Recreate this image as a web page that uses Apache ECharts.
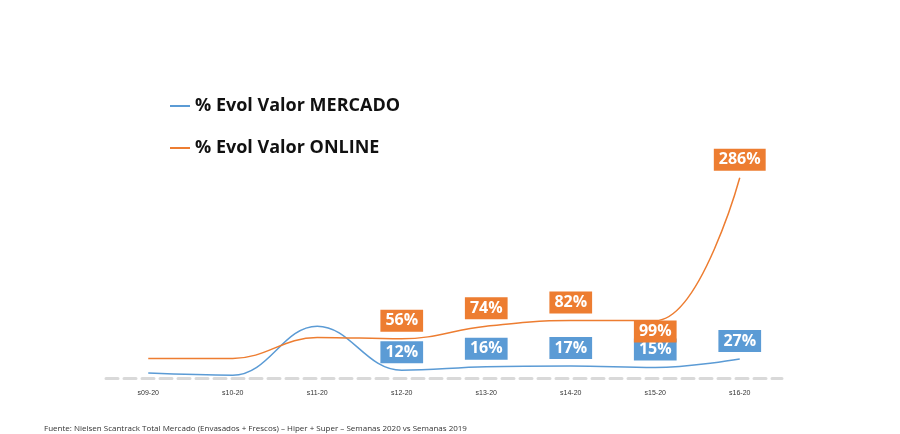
<!DOCTYPE html>
<html>
<head>
<meta charset="utf-8">
<script src="https://cdn.jsdelivr.net/npm/echarts@6/dist/echarts.min.js"></script>
<style>html,body{margin:0;background:#fff}#chart{width:900px;height:434px}</style>
</head>
<body>
<div id="chart"></div>
<script>
const weeks = ['s09-20', 's10-20', 's11-20', 's12-20', 's13-20', 's14-20', 's15-20', 's16-20'];
const mercado = [7, 4, 74, 11, 16, 17, 15, 27];
const online = [28, 28, 58, 56, 74, 82, 82, 286];
const mercadoLabels = [null, null, null, '12%', '16%', '17%', '15%', '27%'];
const onlineLabels = [null, null, null, '56%', '74%', '82%', '99%', '286%'];

function labelled(values, labels, color, below) {
    return values.map(function (v, i) {
        if (!labels[i]) return v;
        return {
            value: v,
            label: {
                show: true,
                formatter: labels[i],
                position: below.indexOf(i) >= 0 ? 'bottom' : 'top',
                distance: below.indexOf(i) >= 0 ? 0 : 7,
                backgroundColor: color,
                color: '#fff',
                fontWeight: 'bold',
                fontSize: 16,
                fontFamily: 'Open Sans',
                padding: [3, 5]
            }
        };
    });
}

const chart = echarts.init(document.getElementById('chart'));
chart.setOption({
    animation: false,
    grid: {left: 106, right: 118, top: 168, bottom: 56},
    legend: {
        orient: 'vertical', left: 165, top: 92, itemGap: 24,
        itemWidth: 20, itemHeight: 2, icon: 'rect',
        textStyle: {fontSize: 18, fontWeight: 'bold', color: '#111', fontFamily: 'Open Sans'},
        data: ['% Evol Valor MERCADO', '% Evol Valor ONLINE']
    },
    xAxis: {
        type: 'category', data: weeks,
        axisLine: {lineStyle: {color: '#d9d9d9', width: 3, type: 'dashed'}},
        axisTick: {show: false},
        axisLabel: {fontSize: 7, color: '#333', margin: 12}
    },
    yAxis: {type: 'value', min: 0, max: 300, show: false},
    graphic: [{
        type: 'text', left: 44, top: 425,
        style: {text: 'Fuente: Nielsen Scantrack Total Mercado (Envasados + Frescos) – Hiper + Super – Semanas 2020 vs Semanas 2019', fontSize: 8, fill: '#333', fontFamily: 'Open Sans'}
    }],
    series: [
        {
            name: '% Evol Valor MERCADO', type: 'line', smooth: 0.4,
            symbol: 'circle', symbolSize: 0, showSymbol: true,
            lineStyle: {color: '#5B9BD5', width: 1.5}, itemStyle: {color: '#5B9BD5'},
            data: labelled(mercado, mercadoLabels, '#5B9BD5', [])
        },
        {
            name: '% Evol Valor ONLINE', type: 'line', smooth: 0.4,
            symbol: 'circle', symbolSize: 0, showSymbol: true,
            lineStyle: {color: '#ED7D31', width: 1.5}, itemStyle: {color: '#ED7D31'},
            data: labelled(online, onlineLabels, '#ED7D31', [6])
        }
    ]
});
</script>
</body>
</html>
